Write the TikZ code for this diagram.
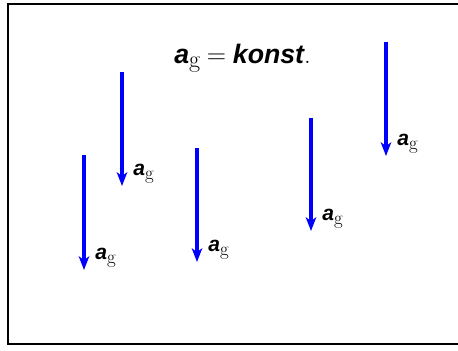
\documentclass[tikz,border=0pt]{standalone}
\usepackage{amsmath}
\usepackage{graphicx}
\usepackage{fontspec}
\newfontfamily\vecfont{Liberation Sans}
\usepackage{tikz}
\usetikzlibrary{arrows.meta, positioning, calc}
\usepackage{xcolor}
\definecolor{AccBlue}{RGB}{0, 0, 255}
\newcommand{\accg}{{\vecfont\bfseries\itshape a}\raisebox{-0.4ex}{\rmfamily\scalebox{0.9}{g}}}

\begin{document}
\begin{tikzpicture}[
            accel/.style={draw=AccBlue, line width=2.2pt, -{Stealth[length=3.4mm, width=2.6mm, inset=0.9mm]}},
            lab/.style={font=\fontsize{15}{18}\selectfont, anchor=base west, inner sep=0pt},
            frame/.style={draw=black, line width=1.5pt}
        ]
        \useasboundingbox (0,0) rectangle (11.45,8.775);

        % The Frame
        \draw[frame] (0.2,0.175) rectangle (11.8,8.675);

        % Title
        \node[font=\fontsize{19}{22}\selectfont, anchor=base west, inner sep=0pt] (title) at (4.35,7.19) {\accg${}\mathrel{\scalebox{1.1}{$=$}}{}${\vecfont\bfseries\itshape konst}.};

        % Arrow ends
        \coordinate (t1) at (3.05,6.975);  \coordinate (h1) at (3.05,4.125);
        \coordinate (t2) at (2.1,4.9);     \coordinate (h2) at (2.1,2.025);
        \coordinate (t3) at (4.925,5.075); \coordinate (h3) at (4.925,2.225);
        \coordinate (t4) at (7.775,5.825); \coordinate (h4) at (7.775,3.0);
        \coordinate (t5) at (9.65,7.725);  \coordinate (h5) at (9.65,4.875);

        % Arrows
        \draw[accel] (t1) -- (h1);
        \draw[accel] (t2) -- (h2);
        \draw[accel] (t3) -- (h3);
        \draw[accel] (t4) -- (h4);
        \draw[accel] (t5) -- (h5);

        % Labels
        \node[lab] (l1) at ($(h1)+(0.275,0.25)$) {\accg};
        \node[lab] (l2) at ($(h2)+(0.275,0.25)$) {\accg};
        \node[lab] (l3) at ($(h3)+(0.275,0.25)$) {\accg};
        \node[lab] (l4) at ($(h4)+(0.275,0.25)$) {\accg};
        \node[lab] (l5) at ($(h5)+(0.275,0.25)$) {\accg};

        \end{tikzpicture}
\end{document}
